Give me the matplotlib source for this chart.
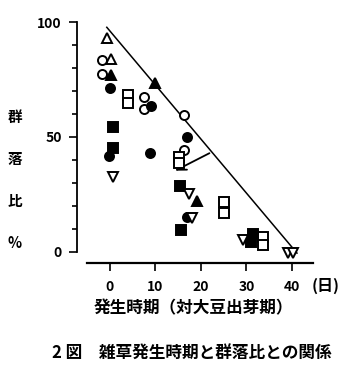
import matplotlib
matplotlib.use("Agg")
import matplotlib.pyplot as plt

plt.rcParams['font.family'] = ['Noto Sans CJK JP', 'DejaVu Sans']
plt.rcParams['font.weight'] = 'bold'

# 発生時期 (days relative to soybean emergence) and 群落比 (%) per symbol type
tri_open_x = [-0.7, 0.2]
tri_open_y = [93, 84]
tri_fill_x = [0.2, 9.9, 19.2]
tri_fill_y = [77, 73.5, 22]
circ_open_x = [-1.8, -1.8, 7.5, 7.5, 16.3, 16.3]
circ_open_y = [83.3, 77.3, 67.3, 62, 59.6, 44.3]
circ_fill_x = [0, -0.2, 8.8, 9.0, 16.9, 16.9]
circ_fill_y = [71.3, 41.7, 43, 63.5, 50.1, 15.4]
sq_open_x = [4, 4, 15.2, 15.2, 25, 25, 33.6, 33.6]
sq_open_y = [68.3, 64.7, 41.2, 38.5, 21.9, 16.8, 6.5, 3]
sq_fill_x = [0.7, 0.7, 15.4, 15.5, 31.4, 31.0]
sq_fill_y = [54.2, 45, 28.8, 9.6, 8, 4.5]
tri_down_x = [0.7, 17.4, 18.0, 29.3, 39.1, 40.2]
tri_down_y = [32.7, 25.1, 14.6, 5, -0.5, -0.5]

# upper boundary line and the arrow
line_x = [-0.7, 41.1]
line_y = [97.7, -0.5]
arrow_from = (22.4, 43.5)
arrow_to = (13.8, 34.8)

x_ticks = [0, 10, 20, 30, 40]
y_ticks = [0, 50, 100]
y_label_chars = ['群', '落', '比', '%']

fig = plt.figure(figsize=(3.5, 3.67), dpi=100)
ax = fig.add_axes([0.22, 0.2834, 0.674, 0.6629])

ax.plot(line_x, line_y, color='black', lw=1.1)
ax.annotate('', xy=arrow_to, xytext=arrow_from,
            arrowprops=dict(arrowstyle='->', color='black', lw=1.3,
                            mutation_scale=16))

series = [
    (tri_open_x, tri_open_y, '^', 'white'),
    (tri_fill_x, tri_fill_y, '^', 'black'),
    (circ_open_x, circ_open_y, 'o', 'white'),
    (circ_fill_x, circ_fill_y, 'o', 'black'),
    (sq_open_x, sq_open_y, 's', 'white'),
    (sq_fill_x, sq_fill_y, 's', 'black'),
    (tri_down_x, tri_down_y, 'v', 'white'),
]
for xs, ys, m, fc in series:
    ax.plot(xs, ys, linestyle='none', marker=m, markersize=6.5,
            markerfacecolor=fc, markeredgecolor='black', markeredgewidth=1.4,
            clip_on=False, zorder=3)

ax.set_xlim(-7.25, 44.6)
ax.set_ylim(-4.8, 101)

for s in ['top', 'right']:
    ax.spines[s].set_visible(False)
ax.spines['left'].set_bounds(0, 100)
ax.spines['bottom'].set_bounds(-5.05, 44.6)
ax.spines['left'].set_linewidth(1.3)
ax.spines['bottom'].set_linewidth(1.6)

ax.set_xticks(x_ticks)
ax.set_yticks(y_ticks)
ax.set_yticks(range(10, 100, 10), minor=True)
ax.tick_params(axis='y', which='major', length=6, width=1.2, pad=5, labelsize=10)
ax.tick_params(axis='y', which='minor', length=3.5, width=1.2)
ax.tick_params(axis='x', which='major', length=6, width=1.2, pad=6, labelsize=10)

fig.text(0.93, 0.222, '(日)', ha='center', va='center', fontsize=11.5)
fig.text(0.552, 0.16, '発生時期（対大豆出芽期）', ha='center', va='center', fontsize=12)
fig.text(0.547, 0.038, '2 図　雑草発生時期と群落比との関係', ha='center', va='center',
         fontsize=12)

for i, ch in enumerate(y_label_chars):
    fig.text(0.043, 1 - (117 + i * 42) / 367, ch, ha='center', va='center',
             fontsize=10.5)

fig.savefig('out.png', dpi=100)
